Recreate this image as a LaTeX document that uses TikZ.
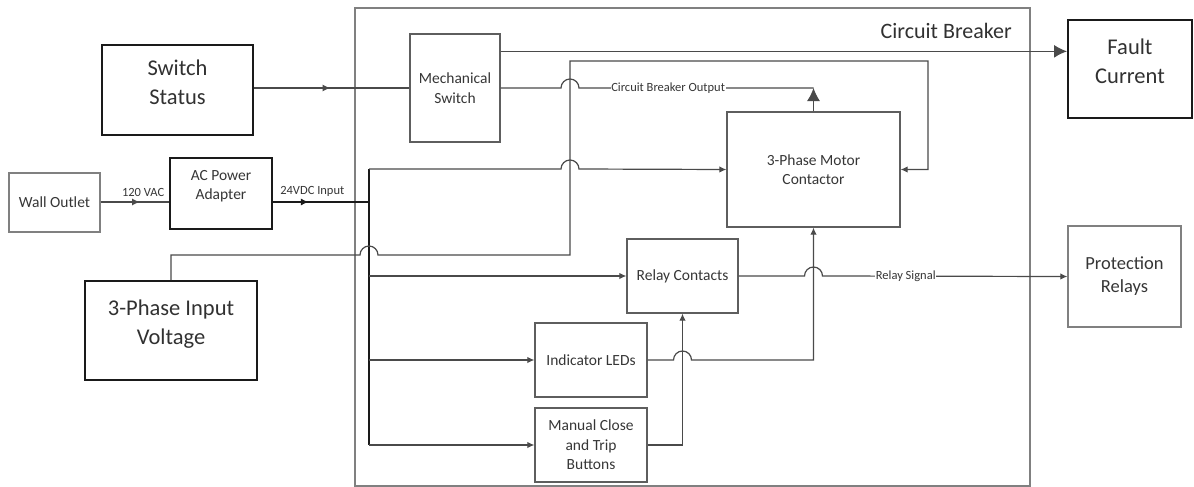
\documentclass[tikz,border=0pt]{standalone}
\usepackage{fontspec}
\setmainfont{Carlito}
\usetikzlibrary{
  arrows.meta,
  positioning,
  calc,
  decorations.markings,
}
\definecolor{ink}{HTML}{1A1A1A}
\definecolor{wire}{HTML}{4A4A4A}
\definecolor{edge}{HTML}{5E5E5E}
\definecolor{frame}{HTML}{808080}
\definecolor{txt}{HTML}{363636}
\tikzset{
  bd/.style={
    x=1pt, y=-1pt,
    line join=miter,
  },
  extbox/.style={
    draw=ink,
    line width=2pt,
    inner sep=0pt,
    align=center,
    text=ink!90,
    font=\fontsize{22.5}{29}\selectfont,
    text depth=16pt,
  },
  intbox/.style={
    draw=edge,
    line width=1.3pt,
    inner sep=0pt,
    align=center,
    text=txt,
    font=\fontsize{15.5}{19.5}\selectfont,
  },
  lab/.style={
    font=\fontsize{12.5}{14}\selectfont,
    text=txt,
    inner sep=0.6pt,
  },
  wireline/.style={draw=wire, line width=1.2pt},
  flow/.style={wireline, -{Latex[length=7pt, width=6.5pt]}},
  bigflow/.style={wireline, -{Latex[length=13pt, width=13pt]}},
  midarrow/.style={
    postaction={decorate},
    decoration={markings,
      mark=at position #1 with {\arrow{Latex[length=7.5pt, width=7pt]}}},
  },
}

\begin{document}
\begin{tikzpicture}[bd]
  \useasboundingbox (0,0) rectangle (1194,487);
  \def\jr{9}

  % Circuit breaker enclosure
  \draw[frame, line width=1.8pt] (355,8) rectangle (1030,486);
  \node[anchor=base east, text=ink!90, inner sep=0pt,
    font=\fontsize{22}{26}\selectfont] (cbtitle) at (1012,39) {Circuit Breaker};

  % outside blocks
  \node[extbox, minimum width=151pt, minimum height=90pt] (status) at (177.5,90) {Switch\\Status};
  \node[extbox, minimum width=124pt, minimum height=98pt] (fault) at (1130,69) {Fault\\Current};
  \node[extbox, minimum width=172pt, minimum height=99pt] (phase) at (171,330.5) {3-Phase Input\\Voltage};
  \node[intbox, minimum width=91pt, minimum height=59pt, draw=frame] (wall) at (54.5,202.5) {Wall Outlet};
  \node[intbox, draw=ink, line width=1.8pt, text depth=17pt,
    minimum width=102pt, minimum height=71pt] (adapter) at (221,193.5) {AC Power\\Adapter};
  \node[intbox, draw=frame, font=\fontsize{18.5}{23}\selectfont,
    minimum width=113pt, minimum height=101pt] (prot) at (1124.5,276.5) {Protection\\Relays};

  % inside blocks
  \node[intbox, minimum width=90pt, minimum height=108pt] (mech) at (455,88) {Mechanical\\Switch};
  \node[intbox, minimum width=173pt, minimum height=115pt] (contactor) at (813.5,169.5) {3-Phase Motor\\Contactor};
  \node[intbox, minimum width=111pt, minimum height=74pt] (relay) at (682.5,276) {Relay Contacts};
  \node[intbox, minimum width=112pt, minimum height=74pt] (leds) at (591,360) {Indicator LEDs};
  \node[intbox, minimum width=112pt, minimum height=74pt] (manual) at (591,445) {Manual Close\\and Trip\\Buttons};

  \coordinate (dcin) at (369,202);
  \coordinate (bustop) at (369,169);
  \coordinate (busbot) at (369,445);
  \coordinate (riser) at (570,255);
  \coordinate (risetop) at (570,61);
  \coordinate (loopr) at (928,61);
  \coordinate (faultin) at ([yshift=-18pt]mech.north east);
  \coordinate (cbout) at (contactor.north |- mech.east);

  % power path
  \draw[wireline, midarrow=0.57] (wall.east |- dcin) -- node[lab, above=4pt, pos=0.62] {120 VAC} (adapter.west |- dcin);
  \draw[wireline, draw=ink, midarrow=0.37] (adapter.east |- dcin) -- node[lab, above=4pt, pos=0.41] {24VDC Input} (dcin);
  \draw[wireline, draw=ink] (bustop) -- (busbot);
  \draw[flow] (bustop) -- ($(risetop |- bustop)+(-\jr,0)$)
    arc[start angle=180, end angle=360, radius=\jr] -- (contactor.west);
  \draw[flow] (bustop |- relay.west) -- (relay.west);
  \draw[flow] (bustop |- leds.west) -- (leds.west);
  \draw[flow] (busbot) -- (manual.west);

  % 3-phase feed into the contactor
  \draw[flow] (phase.north) -- (phase.north |- riser) -- ($(bustop |- riser)+(-\jr,0)$)
    arc[start angle=180, end angle=360, radius=\jr] -- (riser) -- (risetop)
    -- (loopr) -- (loopr |- contactor.east) -- (contactor.east);

  % switch status and outputs
  \draw[wireline, midarrow=0.49] (status.east |- mech.west) -- (mech.west);
  \draw[bigflow] (faultin) -- (faultin -| fault.west);
  \draw[wireline] (mech.east) -- ($(risetop |- mech.east)+(-\jr,0)$)
    arc[start angle=180, end angle=360, radius=\jr]
    -- node[lab, fill=white, pos=0.38] {Circuit Breaker Output} (cbout);
  \draw[bigflow] (contactor.north) -- (cbout);

  % control signals
  \draw[flow] (manual.east) -- (manual.east -| relay.south) -- (relay.south);
  \draw[flow] (leds.east) -- ($(relay.south |- leds.east)+(-\jr,0)$)
    arc[start angle=180, end angle=360, radius=\jr]
    -- (contactor.south |- leds.east) -- (contactor.south);
  \draw[flow] (relay.east) -- ($(contactor.south |- relay.east)+(-\jr,0)$)
    arc[start angle=180, end angle=360, radius=\jr]
    -- node[lab, fill=white, pos=0.34] {Relay Signal} (prot.west);
\end{tikzpicture}
\end{document}
